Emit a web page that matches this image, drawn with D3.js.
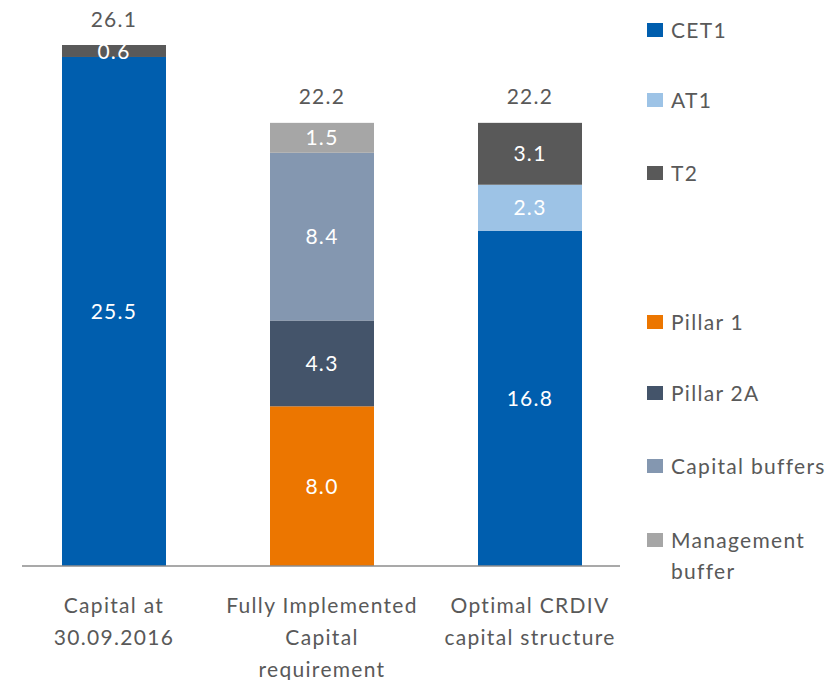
<!DOCTYPE html>
<meta charset="utf-8">
<style>
body { margin: 0; background: #fff; }
text { font-family: Lato, "Open Sans", sans-serif; font-size: 21px; letter-spacing: 1.3px; }
</style>
<svg width="829" height="680"></svg>
<script src="https://cdn.jsdelivr.net/npm/d3@7"></script>
<script>

var categories = ["Capital at\n30.09.2016", "Fully Implemented\nCapital\nrequirement", "Optimal CRDIV\ncapital structure"];
var seriesNames = ["CET1", "AT1", "T2", "Pillar 1", "Pillar 2A", "Capital buffers", "Management buffer"];
var colors = ["#005eae", "#9dc3e6", "#595959", "#ec7600", "#44546a", "#8497b0", "#a6a6a6"];
// value of each series per category (0 = not present)
var CET1 = [25.5, 0, 16.8];
var AT1 = [0, 0, 2.3];
var T2 = [0.6, 0, 3.1];
var pillar1 = [0, 8.0, 0];
var pillar2A = [0, 4.3, 0];
var buffers = [0, 8.4, 0];
var mgmt = [0, 1.5, 0];
var totals = [26.1, 22.2, 22.2];
var stackOrder = ["Pillar 1", "Pillar 2A", "Capital buffers", "Management buffer", "CET1", "AT1", "T2"];

var values = {"CET1": CET1, "AT1": AT1, "T2": T2, "Pillar 1": pillar1,
  "Pillar 2A": pillar2A, "Capital buffers": buffers, "Management buffer": mgmt};

var data = categories.map(function(c, i) {
  var row = {cat: c};
  seriesNames.forEach(function(s) { row[s] = values[s][i]; });
  return row;
});

var svg = d3.select("svg");
var baseY = 566, topY = 45;

var x = d3.scaleBand()
    .domain(categories)
    .range([10, 634])
    .paddingInner(0.5)
    .paddingOuter(0.25);

var y = d3.scaleLinear()
    .domain([0, 26.1])
    .range([baseY, topY]);

var color = d3.scaleOrdinal().domain(seriesNames).range(colors);

var stacked = d3.stack().keys(stackOrder)(data);

var g = svg.append("g");

stacked.forEach(function(layer) {
  g.selectAll(null)
    .data(layer.filter(function(d) { return d[1] - d[0] > 0; }))
    .enter().append("rect")
      .attr("x", function(d) { return x(d.data.cat); })
      .attr("width", x.bandwidth())
      .attr("y", function(d) { return y(d[1]); })
      .attr("height", function(d) { return y(d[0]) - y(d[1]); })
      .attr("fill", color(layer.key));

  g.selectAll(null)
    .data(layer.filter(function(d) { return d[1] - d[0] > 0; }))
    .enter().append("text")
      .attr("x", function(d) { return x(d.data.cat) + x.bandwidth() / 2; })
      .attr("y", function(d) { return (y(d[0]) + y(d[1])) / 2; })
      .attr("dy", "0.36em")
      .attr("text-anchor", "middle")
      .attr("fill", "#fff")
      .text(function(d) { return (d[1] - d[0]).toFixed(1); });
});

// totals above bars
g.selectAll(null)
  .data(data)
  .enter().append("text")
    .attr("x", function(d) { return x(d.cat) + x.bandwidth() / 2; })
    .attr("y", function(d, i) { return y(totals[i]) - 26; })
    .attr("dy", "0.36em")
    .attr("text-anchor", "middle")
    .attr("fill", "#595959")
    .text(function(d, i) { return totals[i].toFixed(1); });

// axis
var axis = svg.append("g")
    .attr("transform", "translate(0," + baseY + ")")
    .call(d3.axisBottom(x).tickSize(0).tickFormat(""));
axis.select(".domain").attr("stroke", "#8c8c8c").attr("stroke-width", 1.5)
    .attr("d", "M22,0H620");

var labels = svg.selectAll(null)
  .data(categories)
  .enter().append("text")
    .attr("text-anchor", "middle")
    .attr("fill", "#595959")
    .attr("transform", function(d) { return "translate(" + (x(d) + x.bandwidth() / 2) + ",605)"; });
labels.selectAll("tspan")
  .data(function(d) { return d.split("\n"); })
  .enter().append("tspan")
    .attr("x", 0)
    .attr("y", function(d, i) { return i * 32; })
    .attr("dy", "0.36em")
    .text(function(d) { return d; });

// legend
var legendY = [30, 100, 173, 322, 393, 466, 540];
var leg = svg.selectAll(".leg")
  .data(seriesNames)
  .enter().append("g")
    .attr("class", "leg")
    .attr("transform", function(d, i) { return "translate(647," + legendY[i] + ")"; });
leg.append("rect")
    .attr("x", 0).attr("y", -7)
    .attr("width", 16).attr("height", 14)
    .attr("fill", function(d) { return color(d); });
var lt = leg.append("text")
    .attr("x", 24)
    .attr("fill", "#595959");
lt.selectAll("tspan")
  .data(function(d) { return d === "Management buffer" ? ["Management", "buffer"] : [d]; })
  .enter().append("tspan")
    .attr("x", 24)
    .attr("y", function(d, i) { return i * 31; })
    .attr("dy", "0.36em")
    .text(function(d) { return d; });

</script>
